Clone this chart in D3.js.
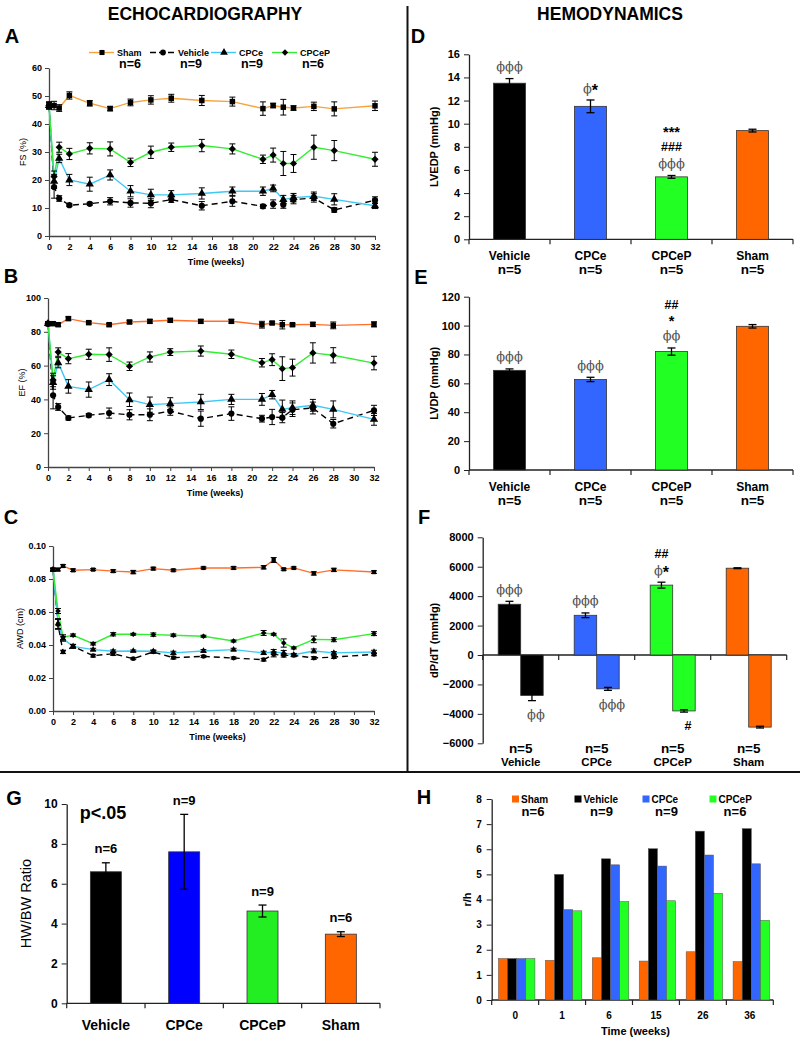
<!DOCTYPE html>
<html>
<head>
<meta charset="utf-8">
<script src="https://cdn.jsdelivr.net/npm/d3@7"></script>
<style>
  html, body { margin: 0; padding: 0; background: #fff; }
  svg text { font-family: "Liberation Sans", Arial, sans-serif; }
</style>
</head>
<body>
<svg id="fig" width="800" height="1038"></svg>
<script>
// ---------------- DATA ----------------
const groups = ["Sham", "Vehicle", "CPCe", "CPCeP"];
const groupN = ["n=6", "n=9", "n=9", "n=6"];
const weeks = [0, 0.5, 1, 2, 4, 6, 8, 10, 12, 15, 18, 21, 22, 23, 24, 26, 28, 32];
const weekTicks = [0, 2, 4, 6, 8, 10, 12, 14, 16, 18, 20, 22, 24, 26, 28, 30, 32];

// A: FS (%)
const fsSham      = [46.6, 46.6, 45.7, 50.2, 47.4, 45.5, 47.7, 48.6, 49.2, 48.4, 48.0, 45.5, 46.6, 46.0, 45.7, 46.3, 45.4, 46.5];
const fsShamErr   = [1.2, 1.5, 1.2, 1.3, 1.0, 0.8, 1.2, 1.5, 1.4, 1.8, 1.6, 2.4, 0.8, 2.8, 0.8, 1.5, 2.5, 1.7];
const fsVehicle   = [46.6, 17.5, 13.4, 11.0, 11.5, 12.4, 11.8, 11.7, 13.0, 10.8, 12.4, 10.6, 11.4, 11.2, 13.0, 13.6, 9.3, 12.8];
const fsVehicleErr= [1.2, 4.0, 1.0, 0.5, 0.5, 1.3, 1.5, 1.6, 1.0, 1.5, 1.8, 0.7, 1.5, 1.3, 1.5, 1.5, 0.8, 1.2];
const fsCPCe      = [46.6, 19.5, 27.7, 20.0, 18.5, 21.8, 16.0, 14.7, 14.7, 15.2, 16.0, 16.0, 17.0, 13.0, 13.7, 14.2, 13.1, 10.8];
const fsCPCeErr   = [1.2, 2.5, 1.5, 2.0, 2.5, 1.8, 2.0, 2.0, 1.5, 2.0, 1.5, 1.5, 1.2, 1.5, 1.5, 1.5, 2.0, 1.0];
const fsCPCeP     = [46.6, 21.2, 31.7, 29.3, 31.3, 31.1, 26.3, 29.9, 31.7, 32.3, 31.1, 27.4, 28.9, 25.9, 25.9, 31.7, 30.5, 27.4];
const fsCPCePErr  = [1.2, 2.0, 1.8, 2.0, 2.0, 2.5, 1.5, 2.2, 1.5, 2.2, 1.8, 1.5, 2.5, 4.3, 3.2, 4.3, 3.6, 2.5];

// B: EF (%)
const efSham      = [84.8, 84.8, 84.2, 87.8, 85.4, 84.2, 85.8, 86.2, 86.8, 86.2, 86.2, 84.2, 85.2, 84.2, 84.2, 84.4, 83.8, 84.4];
const efShamErr   = [1.0, 1.0, 1.0, 1.0, 0.8, 0.8, 1.0, 1.0, 1.0, 1.0, 1.0, 2.0, 0.8, 2.5, 0.8, 1.2, 2.0, 1.5];
const efVehicle   = [84.8, 42.4, 35.5, 29.0, 30.6, 31.9, 30.9, 30.9, 33.1, 28.6, 31.6, 28.6, 29.6, 29.2, 33.9, 34.9, 25.6, 33.5];
const efVehicleErr= [1.0, 8.0, 2.0, 1.2, 1.0, 3.0, 3.0, 3.5, 2.5, 4.5, 4.0, 2.0, 4.5, 3.0, 4.0, 3.5, 2.5, 3.0];
const efCPCe      = [84.8, 50.0, 61.7, 47.7, 45.8, 51.7, 39.8, 36.9, 37.5, 38.5, 40.0, 40.0, 42.8, 34.1, 35.1, 36.5, 34.1, 28.2];
const efCPCeErr   = [1.0, 4.0, 3.0, 4.0, 4.5, 3.5, 4.0, 4.5, 3.5, 4.5, 3.0, 3.5, 2.5, 5.5, 4.0, 3.5, 5.0, 3.5];
const efCPCeP     = [84.8, 51.5, 68.0, 64.1, 66.7, 66.5, 59.6, 65.1, 68.0, 68.6, 66.7, 61.7, 63.5, 58.2, 58.8, 67.5, 66.1, 61.5];
const efCPCePErr  = [1.0, 4.0, 2.5, 3.0, 3.0, 4.0, 2.5, 3.0, 2.0, 3.0, 2.5, 2.5, 3.5, 7.0, 5.0, 6.0, 4.5, 4.0];

// C: AWD (cm)
const awdSham      = [0.0857, 0.0857, 0.0879, 0.0853, 0.0857, 0.0848, 0.0842, 0.0863, 0.0853, 0.0867, 0.0867, 0.0871, 0.0915, 0.0859, 0.0867, 0.0834, 0.0855, 0.0842];
const awdShamErr   = [0.0008, 0.0008, 0.0008, 0.0008, 0.0006, 0.0008, 0.0010, 0.0008, 0.0006, 0.0006, 0.0008, 0.0010, 0.0015, 0.0006, 0.0006, 0.0010, 0.0010, 0.0008];
const awdVehicle   = [0.0857, 0.0525, 0.0358, 0.0392, 0.0335, 0.0347, 0.0317, 0.0358, 0.0323, 0.0331, 0.0321, 0.0311, 0.0343, 0.0337, 0.0337, 0.0321, 0.0327, 0.0343];
const awdVehicleErr= [0.0008, 0.0030, 0.0010, 0.0010, 0.0008, 0.0010, 0.0006, 0.0008, 0.0008, 0.0006, 0.0006, 0.0008, 0.0015, 0.0010, 0.0008, 0.0008, 0.0008, 0.0008];
const awdCPCe      = [0.0857, 0.0530, 0.0438, 0.0392, 0.0372, 0.0362, 0.0364, 0.0362, 0.0352, 0.0364, 0.0372, 0.0352, 0.0358, 0.0352, 0.0341, 0.0364, 0.0352, 0.0358];
const awdCPCeErr   = [0.0008, 0.0030, 0.0015, 0.0012, 0.0008, 0.0008, 0.0006, 0.0008, 0.0010, 0.0008, 0.0008, 0.0010, 0.0015, 0.0015, 0.0008, 0.0012, 0.0008, 0.0010];
const awdCPCeP     = [0.0857, 0.0606, 0.0447, 0.0459, 0.0408, 0.0465, 0.0465, 0.0463, 0.0459, 0.0453, 0.0424, 0.0473, 0.0465, 0.0412, 0.0382, 0.0434, 0.0432, 0.0469];
const awdCPCePErr  = [0.0008, 0.0015, 0.0015, 0.0008, 0.0008, 0.0010, 0.0006, 0.0010, 0.0008, 0.0006, 0.0006, 0.0015, 0.0006, 0.0025, 0.0006, 0.0020, 0.0012, 0.0012];

// D/E/F/G categories
const barCats = ["Vehicle", "CPCe", "CPCeP", "Sham"];
const hemoN = ["n=5", "n=5", "n=5", "n=5"];
// D: LVEDP
const lvedp    = [13.5, 11.5, 5.4, 9.4];
const lvedpErr = [0.4, 0.55, 0.12, 0.12];
const lvedpSig = [["ϕϕϕ"], ["ϕ*"], ["ϕϕϕ", "###", "***"], []];
// E: LVDP
const lvdp    = [69, 62.7, 82, 99.5];
const lvdpErr = [1.0, 1.5, 2.5, 1.2];
const lvdpSig = [["ϕϕϕ"], ["ϕϕϕ"], ["ϕϕ", "*", "##"], []];
// F: dP/dT
const dpdtPos    = [3450, 2700, 4750, 5900];
const dpdtPosErr = [200, 160, 200, 30];
const dpdtNeg    = [-2750, -2300, -3800, -4900];
const dpdtNegErr = [350, 100, 80, 60];
const dpdtPosSig = [["ϕϕϕ"], ["ϕϕϕ"], ["ϕ*", "##"], []];
const dpdtNegSig = [["ϕϕ"], ["ϕϕϕ"], ["#"], []];
// G: HW/BW
const hwbw    = [6.6, 7.6, 4.63, 3.47];
const hwbwErr = [0.45, 1.88, 0.3, 0.12];
const hwbwN   = ["n=6", "n=9", "n=9", "n=6"];
// H: r/h
const rhWeeks   = ["0", "1", "6", "15", "26", "36"];
const rhSham    = [1.65, 1.58, 1.68, 1.55, 1.92, 1.53];
const rhVehicle = [1.65, 5.0, 5.62, 6.02, 6.72, 6.82];
const rhCPCe    = [1.65, 3.6, 5.38, 5.33, 5.77, 5.42];
const rhCPCeP   = [1.65, 3.55, 3.92, 3.95, 4.25, 3.17];

// ---------------- STYLE ----------------
const FONT = '"Liberation Sans", Arial, sans-serif';
const SERIF = '"DejaVu Serif", "Liberation Serif", serif';
const lineColors = { Sham: "#f7a33c", Vehicle: "#000000", CPCe: "#3ec8f5", CPCeP: "#33ee33" };
const lineColorsBC = { Sham: "#ff6f2a", Vehicle: "#000000", CPCe: "#3ec8f5", CPCeP: "#33ee33" };
const barColors = { Vehicle: "#000000", CPCe: "#3366ff", CPCeP: "#22ff22", Sham: "#ff6600" };
const symbolOf = {
  Sham: d3.symbolSquare, Vehicle: d3.symbolCircle,
  CPCe: d3.symbolTriangle, CPCeP: d3.symbolDiamond2 || d3.symbolDiamond
};

const svg = d3.select("#fig");

// header + dividers
svg.append("text").attr("x", 205).attr("y", 20).attr("text-anchor", "middle")
  .style("font-family", '"Liberation Sans Narrow", "Arial Narrow", "Liberation Sans", sans-serif')
  .style("font-weight", "bold").style("font-size", "17.5px").text("ECHOCARDIOGRAPHY");
svg.append("text").attr("x", 610).attr("y", 20).attr("text-anchor", "middle")
  .style("font-family", '"Liberation Sans Narrow", "Arial Narrow", "Liberation Sans", sans-serif')
  .style("font-weight", "bold").style("font-size", "17.5px").text("HEMODYNAMICS");
svg.append("line").attr("x1", 407.5).attr("x2", 407.5).attr("y1", 6).attr("y2", 772)
  .attr("stroke", "#111").attr("stroke-width", 2);
svg.append("line").attr("x1", 0).attr("x2", 800).attr("y1", 772).attr("y2", 772)
  .attr("stroke", "#111").attr("stroke-width", 2);

function panelLetter(t, x, y) {
  svg.append("text").attr("x", x).attr("y", y).attr("text-anchor", "middle")
    .attr("dominant-baseline", "central")
    .style("font-weight", "bold").style("font-size", "20px").text(t);
}
function txt(g, x, y, s, size, weight, anchor, fill, family) {
  return g.append("text").attr("x", x).attr("y", y).attr("text-anchor", anchor || "middle")
    .attr("dominant-baseline", "central")
    .style("font-size", size + "px").style("font-weight", weight || "bold")
    .style("fill", fill || "#000").style("font-family", family || FONT).text(s);
}
function styleAxis(g, size, color) {
  g.selectAll("text").style("font-size", size + "px").style("font-weight", "bold")
    .style("font-family", FONT).attr("fill", "#000");
  g.selectAll("line").attr("stroke", color || "#333");
  g.select(".domain").attr("stroke", color || "#333").attr("stroke-width", 1.3);
}

// ---------------- LINE PANELS (A,B,C) ----------------
function linePanel(cfg) {
  const g = svg.append("g");
  const x = d3.scaleLinear().domain([0, 32]).range([cfg.x0, cfg.x1]);
  const y = d3.scaleLinear().domain(cfg.yDomain).range([cfg.y0, cfg.y1]);
  const ax = g.append("g").attr("transform", `translate(0,${cfg.y0})`)
    .call(d3.axisBottom(x).tickValues(weekTicks).tickSize(4).tickSizeOuter(0).tickPadding(4));
  styleAxis(ax, 9, "#444");
  const ay = g.append("g").attr("transform", `translate(${cfg.x0},0)`)
    .call(d3.axisLeft(y).tickValues(cfg.yTicks).tickFormat(cfg.fmt).tickSize(4).tickSizeOuter(0).tickPadding(3));
  styleAxis(ay, 9, "#444");
  txt(g, (cfg.x0 + cfg.x1) / 2 + 4, cfg.y0 + 26, "Time (weeks)", 9, "bold");
  g.append("text").attr("transform", `translate(${cfg.ylabX},${(cfg.y0 + cfg.y1) / 2}) rotate(-90)`)
    .attr("text-anchor", "middle").attr("dominant-baseline", "central")
    .style("font-size", "9px").style("font-weight", "normal").text(cfg.ylabel);

  cfg.series.forEach(s => {
    const pts = weeks.map((w, i) => ({ w, v: s.values[i], e: s.err[i] }));
    const line = d3.line().x(d => x(d.w)).y(d => y(d.v));
    g.append("path").datum(pts).attr("d", line).attr("fill", "none")
      .attr("stroke", s.color).attr("stroke-width", 1.4)
      .attr("stroke-dasharray", s.name === "Vehicle" ? "6,4" : null);
  });
  cfg.series.forEach(s => {
    const pts = weeks.map((w, i) => ({ w, v: s.values[i], e: s.err[i] }));
    const eb = g.append("g");
    pts.forEach(d => {
      const cx = x(d.w), yt = y(d.v + d.e), yb = y(d.v - d.e);
      eb.append("line").attr("x1", cx).attr("x2", cx).attr("y1", yt).attr("y2", yb).attr("stroke", "#000").attr("stroke-width", 1);
      eb.append("line").attr("x1", cx - 3).attr("x2", cx + 3).attr("y1", yt).attr("y2", yt).attr("stroke", "#000").attr("stroke-width", 1);
      eb.append("line").attr("x1", cx - 3).attr("x2", cx + 3).attr("y1", yb).attr("y2", yb).attr("stroke", "#000").attr("stroke-width", 1);
    });
    g.selectAll(null).data(pts).enter().append("path")
      .attr("transform", d => `translate(${x(d.w)},${y(d.v)})`)
      .attr("d", d3.symbol().type(symbolOf[s.name]).size(s.name === "CPCeP" ? cfg.msize * 1.1 : cfg.msize))
      .attr("fill", "#000");
  });
  return { g, x, y };
}

function seriesOf(vals, errs, colors) {
  return groups.map((n, i) => ({ name: n, values: vals[i], err: errs[i], color: colors[n] }));
}

// Panel A
panelLetter("A", 12, 36);
linePanel({
  x0: 49, x1: 375, y0: 236, y1: 68, yDomain: [0, 60], yTicks: [0, 10, 20, 30, 40, 50, 60],
  fmt: d3.format("d"), ylabel: "FS (%)", ylabX: 23, msize: 30,
  series: seriesOf([fsSham, fsVehicle, fsCPCe, fsCPCeP], [fsShamErr, fsVehicleErr, fsCPCeErr, fsCPCePErr], lineColors)
});
// legend A
(function () {
  const g = svg.append("g");
  const lx = d3.scalePoint().domain(groups).range([102, 285]);
  groups.forEach((n, i) => {
    const cx = lx(n);
    g.append("line").attr("x1", cx - 13).attr("x2", cx + 12).attr("y1", 52.5).attr("y2", 52.5)
      .attr("stroke", lineColors[n]).attr("stroke-width", 1.4)
      .attr("stroke-dasharray", n === "Vehicle" ? "6,3" : null);
    g.append("path").attr("transform", `translate(${cx},52.5)`)
      .attr("d", d3.symbol().type(symbolOf[n]).size(26)).attr("fill", "#000");
    txt(g, cx + 15, 52.5, n, 9, "bold", "start");
    txt(g, cx + 28, 64, groupN[i], 12.5, "bold");
  });
})();

// Panel B
panelLetter("B", 11, 276);
linePanel({
  x0: 48, x1: 374, y0: 467, y1: 298, yDomain: [0, 100], yTicks: [0, 20, 40, 60, 80, 100],
  fmt: d3.format("d"), ylabel: "EF (%)", ylabX: 22, msize: 30,
  series: seriesOf([efSham, efVehicle, efCPCe, efCPCeP], [efShamErr, efVehicleErr, efCPCeErr, efCPCePErr], lineColorsBC)
});

// Panel C
panelLetter("C", 11, 517);
linePanel({
  x0: 53, x1: 374, y0: 711, y1: 546, yDomain: [0, 0.1], yTicks: [0, 0.02, 0.04, 0.06, 0.08, 0.1],
  fmt: d3.format(".2f"), ylabel: "AWD (cm)", ylabX: 20, msize: 18,
  series: seriesOf([awdSham, awdVehicle, awdCPCe, awdCPCeP], [awdShamErr, awdVehicleErr, awdCPCeErr, awdCPCePErr], lineColorsBC)
});

// ---------------- BAR PANELS ----------------
function errBar(g, cx, yTop, yBot, w) {
  g.append("line").attr("x1", cx).attr("x2", cx).attr("y1", yTop).attr("y2", yBot).attr("stroke", "#000").attr("stroke-width", 1.3);
  g.append("line").attr("x1", cx - w).attr("x2", cx + w).attr("y1", yTop).attr("y2", yTop).attr("stroke", "#000").attr("stroke-width", 1.3);
  g.append("line").attr("x1", cx - w).attr("x2", cx + w).attr("y1", yBot).attr("y2", yBot).attr("stroke", "#000").attr("stroke-width", 1.3);
}
function sigStack(g, cx, yStart, items, dir, step) {
  // items listed from nearest to farthest from bar
  let yy = yStart;
  items.forEach(s => {
    const isPhi = s.indexOf("ϕ") >= 0;
    if (isPhi && s.indexOf("*") >= 0) {
      const t = g.append("text").attr("x", cx).attr("y", yy).attr("text-anchor", "middle")
        .attr("dominant-baseline", "central");
      t.append("tspan").text("ϕ").style("font-family", SERIF)
        .style("font-size", "13px").style("fill", "#555");
      t.append("tspan").text("*").style("font-family", FONT).style("font-weight", "bold")
        .style("font-size", "16px").attr("dy", 2);
    } else if (isPhi) {
      txt(g, cx, yy, s, 13, "normal", "middle", "#555", SERIF);
    } else if (s.indexOf("*") >= 0) {
      txt(g, cx, yy + 1, s, 14.5, "bold");
    } else {
      txt(g, cx, yy, s, 12.5, "bold");
    }
    yy += dir * (step || 15);
  });
}
function simpleBar(cfg) {
  const g = svg.append("g");
  const x = d3.scaleBand().domain(barCats).range([cfg.x0, cfg.x1]);
  const y = d3.scaleLinear().domain(cfg.yDomain).range([cfg.y0, cfg.y1]);
  const ay = g.append("g").attr("transform", `translate(${cfg.x0},0)`)
    .call(d3.axisLeft(y).tickValues(cfg.yTicks).tickFormat(d3.format("d")).tickSize(5).tickSizeOuter(0).tickPadding(4));
  styleAxis(ay, cfg.tickSize, "#222");
  g.append("line").attr("x1", cfg.x0).attr("x2", cfg.x1).attr("y1", cfg.y0).attr("y2", cfg.y0)
    .attr("stroke", "#222").attr("stroke-width", 1.3);
  d3.range(barCats.length + 1).forEach(i => {
    const bx = cfg.x0 + i * x.step();
    g.append("line").attr("x1", bx).attr("x2", bx).attr("y1", cfg.y0).attr("y2", cfg.y0 + 5)
      .attr("stroke", "#222").attr("stroke-width", 1.2);
  });
  barCats.forEach((c, i) => {
    const cx = x(c) + x.bandwidth() / 2;
    g.append("rect").attr("x", cx - cfg.bw / 2).attr("width", cfg.bw)
      .attr("y", y(cfg.values[i])).attr("height", y(0) - y(cfg.values[i]))
      .attr("fill", cfg.colors[c]).attr("stroke", "#333").attr("stroke-width", 0.8);
    errBar(g, cx, y(cfg.values[i] + cfg.err[i]), y(cfg.values[i] - cfg.err[i]), cfg.cap);
    if (cfg.sig && cfg.sig[i].length) sigStack(g, cx, y(cfg.values[i] + cfg.err[i]) - 12, cfg.sig[i], -1, cfg.sigStep);
    if (cfg.labels) {
      txt(g, cx, cfg.labY, c, cfg.labSize, "bold");
      if (cfg.nLabels) txt(g, cx, cfg.labY + 13.5, cfg.nLabels[i], 13.5, "bold");
    }
    if (cfg.topN) txt(g, cx, y(cfg.values[i] + cfg.err[i]) - 14, cfg.topN[i], 13, "bold");
  });
  g.append("text").attr("transform", `translate(${cfg.ylabX},${(cfg.y0 + cfg.y1) / 2}) rotate(-90)`)
    .attr("text-anchor", "middle").attr("dominant-baseline", "central")
    .style("font-size", cfg.ylabSize + "px").style("font-weight", cfg.ylabWeight || "bold").text(cfg.ylabel);
  return { g, x, y };
}

// Panel D
panelLetter("D", 418, 36);
simpleBar({
  x0: 469, x1: 793, y0: 239.3, y1: 54.3, yDomain: [0, 16], yTicks: d3.range(0, 17, 2),
  values: lvedp, err: lvedpErr, sig: lvedpSig, sigStep: 16, colors: barColors, bw: 32, cap: 4,
  labels: true, labY: 256, labSize: 12, nLabels: hemoN, tickSize: 11,
  ylabel: "LVEDP (mmHg)", ylabX: 434, ylabSize: 11
});

// Panel E
panelLetter("E", 421, 277);
simpleBar({
  x0: 469, x1: 793, y0: 470, y1: 296.7, yDomain: [0, 120], yTicks: d3.range(0, 121, 20),
  values: lvdp, err: lvdpErr, sig: lvdpSig, sigStep: 15.5, colors: barColors, bw: 32, cap: 4,
  labels: true, labY: 486.5, labSize: 12, nLabels: hemoN, tickSize: 11,
  ylabel: "LVDP (mmHg)", ylabX: 434, ylabSize: 11
});

// Panel F
panelLetter("F", 424, 517);
(function () {
  const g = svg.append("g");
  const x0 = 482.7, x1 = 786.7, yTop = 537.3, yBot = 743.3;
  const x = d3.scaleBand().domain(barCats).range([x0, x1]);
  const y = d3.scaleLinear().domain([-6000, 8000]).range([yBot, yTop]);
  const ay = g.append("g").attr("transform", `translate(${x0},0)`)
    .call(d3.axisLeft(y).tickValues(d3.range(-6000, 8001, 2000)).tickFormat(d3.format("d"))
      .tickSize(5).tickSizeOuter(0).tickPadding(4));
  styleAxis(ay, 11, "#222");
  g.append("line").attr("x1", x0).attr("x2", x1).attr("y1", y(0)).attr("y2", y(0))
    .attr("stroke", "#222").attr("stroke-width", 1.3);
  d3.range(barCats.length + 1).forEach(i => {
    const bx = x0 + i * x.step();
    g.append("line").attr("x1", bx).attr("x2", bx).attr("y1", y(0)).attr("y2", y(0) + 5)
      .attr("stroke", "#222").attr("stroke-width", 1.2);
  });
  const bw = 22.5;
  barCats.forEach((c, i) => {
    const cx = x(c) + x.bandwidth() / 2;
    g.append("rect").attr("x", cx - bw).attr("width", bw)
      .attr("y", y(dpdtPos[i])).attr("height", y(0) - y(dpdtPos[i]))
      .attr("fill", barColors[c]).attr("stroke", "#333").attr("stroke-width", 0.8);
    g.append("rect").attr("x", cx).attr("width", bw)
      .attr("y", y(0)).attr("height", y(dpdtNeg[i]) - y(0))
      .attr("fill", barColors[c]).attr("stroke", "#333").attr("stroke-width", 0.8);
    errBar(g, cx - bw / 2, y(dpdtPos[i] + dpdtPosErr[i]), y(dpdtPos[i] - dpdtPosErr[i]), 4);
    errBar(g, cx + bw / 2, y(dpdtNeg[i] + dpdtNegErr[i]), y(dpdtNeg[i] - dpdtNegErr[i]), 4);
    if (dpdtPosSig[i].length) sigStack(g, cx - bw / 2, y(dpdtPos[i] + dpdtPosErr[i]) - 12, dpdtPosSig[i], -1, 16);
    if (dpdtNegSig[i].length) sigStack(g, cx + bw / 2 + 4, y(dpdtNeg[i] - dpdtNegErr[i]) + 14, dpdtNegSig[i], 1, 16);
    txt(g, cx, 748, hemoN[i], 13.5, "bold");
    txt(g, cx, 762, c, 11.5, "bold");
  });
  g.append("text").attr("transform", `translate(434,${(yTop + yBot) / 2}) rotate(-90)`)
    .attr("text-anchor", "middle").attr("dominant-baseline", "central")
    .style("font-size", "11px").style("font-weight", "bold").text("dP/dT (mmHg)");
})();

// Panel G
panelLetter("G", 14, 798);
simpleBar({
  x0: 66.7, x1: 380, y0: 1003.3, y1: 804, yDomain: [0, 10], yTicks: d3.range(0, 11, 2),
  values: hwbw, err: hwbwErr, colors: { Vehicle: "#000000", CPCe: "#0000ff", CPCeP: "#22ee22", Sham: "#ff6600" },
  bw: 31, cap: 4, labels: true, labY: 1025, labSize: 14, tickSize: 12, topN: hwbwN,
  ylabel: "HW/BW Ratio", ylabX: 26, ylabSize: 14.5, ylabWeight: "normal"
});
txt(svg, 103, 813, "p<.05", 18, "bold");

// Panel H
panelLetter("H", 424, 797);
(function () {
  const g = svg.append("g");
  const x0 = 491.7, x1 = 773.3, yB = 1000, yT = 799;
  const x = d3.scaleBand().domain(rhWeeks).range([x0, x1]);
  const xs = d3.scaleBand().domain(groups).range([0, 36.5]);
  const y = d3.scaleLinear().domain([0, 8]).range([yB, yT]);
  const ay = g.append("g").attr("transform", `translate(${x0},0)`)
    .call(d3.axisLeft(y).tickValues(d3.range(0, 9, 1)).tickSize(5).tickSizeOuter(0).tickPadding(5));
  styleAxis(ay, 10, "#222");
  g.append("line").attr("x1", x0).attr("x2", x1).attr("y1", yB).attr("y2", yB)
    .attr("stroke", "#222").attr("stroke-width", 1.3);
  d3.range(rhWeeks.length + 1).forEach(i => {
    const bx = x0 + i * x.step();
    g.append("line").attr("x1", bx).attr("x2", bx).attr("y1", yB).attr("y2", yB + 5)
      .attr("stroke", "#222").attr("stroke-width", 1.2);
  });
  const vals = { Sham: rhSham, Vehicle: rhVehicle, CPCe: rhCPCe, CPCeP: rhCPCeP };
  rhWeeks.forEach((w, i) => {
    const gx = x(w) + x.bandwidth() / 2 - 36.5 / 2 + 1.5;
    groups.forEach(n => {
      g.append("rect").attr("x", gx + xs(n)).attr("width", xs.bandwidth())
        .attr("y", y(vals[n][i])).attr("height", y(0) - y(vals[n][i]))
        .attr("fill", barColors[n]).attr("stroke", "#555").attr("stroke-width", 0.5);
    });
    txt(g, x(w) + x.bandwidth() / 2, 1015.7, w, 10, "bold");
  });
  txt(g, (x0 + x1) / 2 + 3, 1031, "Time (weeks)", 11, "bold");
  g.append("text").attr("transform", `translate(467,${(yB + yT) / 2}) rotate(-90)`)
    .attr("text-anchor", "middle").attr("dominant-baseline", "central")
    .style("font-size", "11px").style("font-weight", "bold").text("r/h");
  // legend
  const legX = { Sham: 516, Vehicle: 578.5, CPCe: 646.5, CPCeP: 713.5 };
  const nX = [533, 601.5, 666.5, 735];
  groups.forEach((n, i) => {
    g.append("rect").attr("x", legX[n] - 4).attr("y", 795.5).attr("width", 7).attr("height", 7)
      .attr("fill", barColors[n]);
    txt(g, legX[n] + 5, 799.5, n, 10, "bold", "start");
    txt(g, nX[i], 811, groupN[i], 13, "bold");
  });
})();
</script>
</body>
</html>
